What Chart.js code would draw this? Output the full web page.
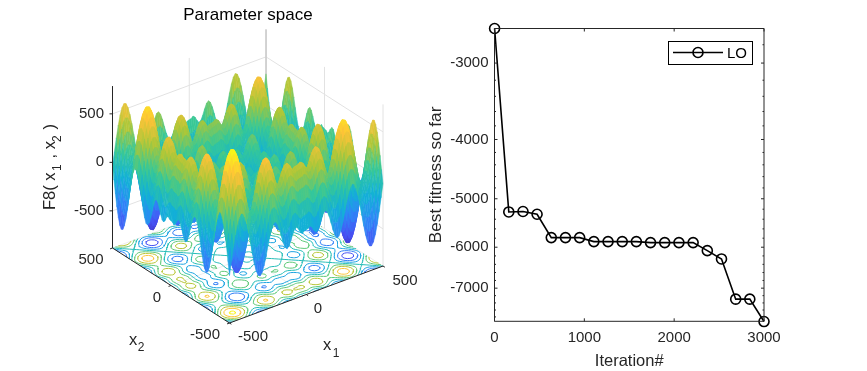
<!DOCTYPE html>
<html>
<head>
<meta charset="utf-8">
<style>
  body { margin: 0; background: #fff; }
  canvas { position: absolute; left: 0; top: 0; }
</style>
<script src="https://cdn.jsdelivr.net/npm/chart.js@4"></script>
</head>
<body>
<canvas id="surfaceChart" width="867" height="371"></canvas>
<canvas id="fitnessChart" width="867" height="371"></canvas>
<script>
// right panel
const iterations = [1, 159, 317, 474, 632, 790, 948, 1106, 1264, 1422, 1579, 1737, 1895, 2053, 2211, 2369, 2527, 2685, 2842, 3000];
const bestFitness = [-2634, -5254, -5245, -5300, -5787, -5787, -5787, -5875, -5875, -5875, -5875, -5897, -5897, -5897, -5897, -6078, -6271, -7296, -7296, -7937];
const iterationTicks = [0, 1000, 2000, 3000];
const fitnessLabels = [-3000, -4000, -5000, -6000, -7000];
const fitnessMinorTicks = [-2800, -3000, -3200, -3400, -3600, -3800, -4000, -4200, -4400, -4600, -4800, -5000, -5200, -5400, -5600, -5800, -6000, -6200, -6400, -6600, -6800, -7000, -7200, -7400, -7600, -7800];

// left panel: surface height is the sum of one profile along x1 and x2
const gridValues = [-500, -487.5, -475, -462.5, -450, -437.5, -425, -412.5, -400, -387.5, -375, -362.5, -350, -337.5, -325, -312.5, -300, -287.5, -275, -262.5, -250, -237.5, -225, -212.5, -200, -187.5, -175, -162.5, -150, -137.5, -125, -112.5, -100, -87.5, -75, -62.5, -50, -37.5, -25, -12.5, 0, 12.5, 25, 37.5, 50, 62.5, 75, 87.5, 100, 112.5, 125, 137.5, 150, 162.5, 175, 187.5, 200, 212.5, 225, 237.5, 250, 262.5, 275, 287.5, 300, 312.5, 325, 337.5, 350, 362.5, 375, 387.5, 400, 412.5, 425, 437.5, 450, 462.5, 475, 487.5, 500];
const heightProfile = [-180, -43, 93, 216, 316, 385, 417, 410, 365, 287, 185, 68, -49, -155, -238, -288, -300, -272, -211, -125, -26, 70, 146, 192, 200, 169, 108, 29, -47, -102, -123, -104, -54, 6, 52, 62, 35, -6, -24, -5, 0, 5, 24, 6, -35, -62, -52, -6, 54, 104, 123, 102, 47, -29, -108, -169, -200, -192, -146, -70, 26, 125, 211, 272, 300, 288, 238, 155, 49, -68, -185, -287, -365, -410, -417, -385, -316, -216, -93, 43, 180];
const contourLevels = [-800, -600, -400, -200, 0, 200, 400, 600, 800];
const axisTicks3d = [-500, 0, 500];

const parula = [[62, 38, 168], [72, 82, 244], [46, 135, 247], [18, 177, 214], [55, 200, 151], [171, 199, 57], [254, 195, 56], [249, 251, 21]];
const textColor = '#262626';
const fontName = '"Liberation Sans", Arial, sans-serif';

// view of the 3d box on the page
const corner = { bx: 229.5, by: 323, rx: 383, ry: 266, lx: 112.5, ly: 248 };
const zFloor = -883, zTop = 783, zScale = 0.097;
const surfaceDrop = 35; // surface sits a little lower than the wall ticks suggest

function project(x1, x2, z) {
    const a = (x1 + 500) / 1000, b = (x2 + 500) / 1000;
    return {
        x: corner.bx + a * (corner.rx - corner.bx) + b * (corner.lx - corner.bx),
        y: corner.by + a * (corner.ry - corner.by) + b * (corner.ly - corner.by) - (z - zFloor) * zScale
    };
}

function parulaColor(z) {
    var t = Math.max(0, Math.min(1, (z + 837) / 1674)) * (parula.length - 1);
    var i = Math.min(parula.length - 2, Math.floor(t));
    var f = t - i;
    var c = [0, 1, 2].map(k => Math.round(parula[i][k] + (parula[i + 1][k] - parula[i][k]) * f));
    return 'rgb(' + c.join(',') + ')';
}

function lineSet(points, color, width) {
    return { data: points, showLine: true, borderColor: color, borderWidth: width, pointRadius: 0, fill: false, tension: 0 };
}

var paintList = [];

// back walls and floor grid
const gridColor = '#e2e2e2';
axisTicks3d.forEach(z => {
    paintList.push(lineSet([project(-500, 500, z), project(500, 500, z), project(500, -500, z)], gridColor, 1));
});
axisTicks3d.forEach(v => {
    paintList.push(lineSet([project(-500, v, zFloor), project(500, v, zFloor)], '#eeeeee', 1));
    paintList.push(lineSet([project(v, -500, zFloor), project(v, 500, zFloor)], '#eeeeee', 1));
    paintList.push(lineSet([project(v, 500, zFloor), project(v, 500, zTop)], gridColor, 1));
    paintList.push(lineSet([project(500, v, zFloor), project(500, v, zTop)], gridColor, 1));
});
paintList.push(lineSet([project(500, 500, zFloor), project(500, 500, zTop)], '#bcbcbc', 1));

// contours on the floor, marching squares over the grid
function height(i, j) { return heightProfile[i] + heightProfile[j]; }
contourLevels.forEach(level => {
    var pts = [];
    const cross = (i0, j0, i1, j1) => {
        var h0 = height(i0, j0), h1 = height(i1, j1);
        if ((h0 < level) === (h1 < level)) return null;
        var t = (level - h0) / (h1 - h0);
        return project(gridValues[i0] + t * (gridValues[i1] - gridValues[i0]), gridValues[j0] + t * (gridValues[j1] - gridValues[j0]), zFloor);
    };
    for (var i = 0; i < gridValues.length - 1; i++) {
        for (var j = 0; j < gridValues.length - 1; j++) {
            var hits = [cross(i, j, i + 1, j), cross(i + 1, j, i + 1, j + 1), cross(i, j + 1, i + 1, j + 1), cross(i, j, i, j + 1)].filter(p => p);
            if (hits.length >= 2) pts.push(hits[0], hits[1], { x: NaN, y: NaN });
            if (hits.length === 4) pts.push(hits[2], hits[3], { x: NaN, y: NaN });
        }
    }
    paintList.push(lineSet(pts, parulaColor(level), 1));
});

// surface, back to front
function surfacePoint(i, j) { return project(gridValues[i], gridValues[j], height(i, j) - surfaceDrop); }
for (var i = gridValues.length - 2; i >= 0; i--) {
    for (var j = gridValues.length - 2; j >= 0; j--) {
        var mean = (height(i, j) + height(i + 1, j) + height(i, j + 1) + height(i + 1, j + 1)) / 4;
        var color = parulaColor(mean);
        paintList.push({
            data: [surfacePoint(i, j), surfacePoint(i + 1, j), surfacePoint(i + 1, j + 1), surfacePoint(i, j + 1), surfacePoint(i, j)],
            showLine: true, pointRadius: 0, tension: 0,
            fill: 'shape', backgroundColor: color, borderColor: color, borderWidth: 0.5
        });
    }
}

// dark axes and tick marks on top
paintList.push(lineSet([project(-500, 500, zTop), project(-500, 500, zFloor), project(-500, -500, zFloor), project(500, -500, zFloor)], textColor, 1));
axisTicks3d.forEach(v => {
    paintList.push(lineSet([project(-500, v, zFloor), project(-516, v, zFloor)], textColor, 1));
    paintList.push(lineSet([project(v, -500, zFloor), project(v, -516, zFloor)], textColor, 1));
    var p = project(-500, 500, v);
    paintList.push(lineSet([p, { x: p.x - 3, y: p.y }], textColor, 1));
});
paintList.reverse(); // chart.js paints the first dataset last

function text(ctx, str, x, y, size, align, color) {
    ctx.font = size + 'px ' + fontName;
    ctx.textAlign = align || 'center';
    ctx.textBaseline = 'middle';
    ctx.fillStyle = color || textColor;
    ctx.fillText(str, x, y);
}

const surfaceLabels = {
    id: 'surfaceLabels',
    afterDraw(chart) {
        const ctx = chart.ctx;
        ctx.save();
        text(ctx, 'Parameter space', 248, 15.5, 17, 'center', '#000');
        axisTicks3d.forEach(v => {
            text(ctx, String(v), 104, project(-500, 500, v).y, 15, 'right');
        });
        text(ctx, '-500', 205, 335, 15);
        text(ctx, '0', 157, 298, 15);
        text(ctx, '500', 91, 260, 15);
        text(ctx, '-500', 253, 337, 15);
        text(ctx, '0', 318, 309, 15);
        text(ctx, '500', 405, 281, 15);
        text(ctx, 'x', 133, 340, 16.5);
        text(ctx, '2', 141, 348, 12);
        text(ctx, 'x', 327, 345, 16.5);
        text(ctx, '1', 336, 354, 12);

        // rotated z label with subscripts
        ctx.translate(50, 166);
        ctx.rotate(-Math.PI / 2);
        text(ctx, 'F8( x', -44, 0, 16.5, 'left');
        text(ctx, '1', -5, 8, 12, 'left');
        text(ctx, ' , x', 3, 0, 16.5, 'left');
        text(ctx, '2', 24, 8, 12, 'left');
        text(ctx, ' )', 32, 0, 16.5, 'left');
        ctx.restore();
    }
};

new Chart(document.getElementById('surfaceChart'), {
    type: 'scatter',
    data: { datasets: paintList },
    plugins: [surfaceLabels],
    options: {
        responsive: false,
        animation: false,
        events: [],
        layout: { padding: 0 },
        scales: {
            x: { type: 'linear', display: false, min: 0, max: 867 },
            y: { type: 'linear', display: false, min: 0, max: 371, reverse: true }
        },
        plugins: { legend: { display: false }, tooltip: { enabled: false }, title: { display: false } }
    }
});

// box, inward ticks and legend of the right panel
const fitnessFrame = {
    id: 'fitnessFrame',
    afterDraw(chart) {
        const ctx = chart.ctx, area = chart.chartArea;
        const xScale = chart.scales.x, yScale = chart.scales.y;
        ctx.save();
        ctx.strokeStyle = textColor;
        ctx.lineWidth = 1;
        ctx.beginPath();
        ctx.rect(area.left, area.top, area.right - area.left, area.bottom - area.top);
        iterationTicks.forEach(v => {
            var px = xScale.getPixelForValue(v);
            ctx.moveTo(px, area.bottom); ctx.lineTo(px, area.bottom - 3);
            ctx.moveTo(px, area.top); ctx.lineTo(px, area.top + 3);
        });
        fitnessMinorTicks.forEach(v => {
            var py = yScale.getPixelForValue(-v);
            var len = fitnessLabels.includes(v) ? 3 : 1.5;
            ctx.moveTo(area.left, py); ctx.lineTo(area.left + len, py);
            ctx.moveTo(area.right, py); ctx.lineTo(area.right - len, py);
        });
        ctx.stroke();

        // legend
        ctx.fillStyle = '#fff';
        ctx.fillRect(668.5, 41.5, 84, 23);
        ctx.strokeStyle = '#000';
        ctx.strokeRect(668.5, 41.5, 84, 23);
        ctx.lineWidth = 1.6;
        ctx.beginPath();
        ctx.moveTo(673, 52.5); ctx.lineTo(723, 52.5);
        ctx.moveTo(703, 52.5); ctx.arc(698, 52.5, 5, 0, Math.PI * 2);
        ctx.stroke();
        text(ctx, chart.data.datasets[0].label, 727, 53.5, 15, 'left', '#000');
        ctx.restore();
    }
};

new Chart(document.getElementById('fitnessChart'), {
    type: 'line',
    data: {
        datasets: [{
            label: 'LO',
            data: iterations.map((it, k) => ({ x: it, y: -bestFitness[k] })),
            borderColor: '#000',
            backgroundColor: 'rgba(0,0,0,0)',
            borderWidth: 1.6,
            pointRadius: 5,
            pointBorderWidth: 1.6,
            pointBorderColor: '#000',
            tension: 0,
            clip: false
        }]
    },
    plugins: [fitnessFrame],
    options: {
        responsive: false,
        animation: false,
        events: [],
        layout: { padding: { left: 424, right: 103, top: 28.5, bottom: 0 } },
        scales: {
            x: {
                type: 'linear',
                min: 0,
                max: 3000,
                afterFit(scale) { scale.height = 49.7; },
                afterBuildTicks(scale) { scale.ticks = iterationTicks.map(v => ({ value: v })); },
                grid: { display: false, drawTicks: false },
                border: { display: false },
                ticks: { color: textColor, padding: 8, maxRotation: 0, font: { family: fontName, size: 15 }, callback: v => String(v) },
                title: { display: true, text: 'Iteration#', color: textColor, padding: 0, font: { family: fontName, size: 16.5 } }
            },
            y: {
                type: 'logarithmic',
                reverse: true,
                min: 2634,
                max: 7930,
                afterFit(scale) { scale.width = 70.5; },
                afterBuildTicks(scale) { scale.ticks = fitnessLabels.map(v => ({ value: -v })); },
                grid: { display: false, drawTicks: false },
                border: { display: false },
                ticks: {
                    color: textColor, padding: 6, autoSkip: false,
                    font: { family: fontName, size: 15 },
                    callback: v => '-' + v
                },
                title: { display: true, text: 'Best fitness so far', color: textColor, padding: { top: 2, bottom: 0 }, font: { family: fontName, size: 17.2 } }
            }
        },
        plugins: { legend: { display: false }, tooltip: { enabled: false }, title: { display: false } }
    }
});
</script>
</body>
</html>
